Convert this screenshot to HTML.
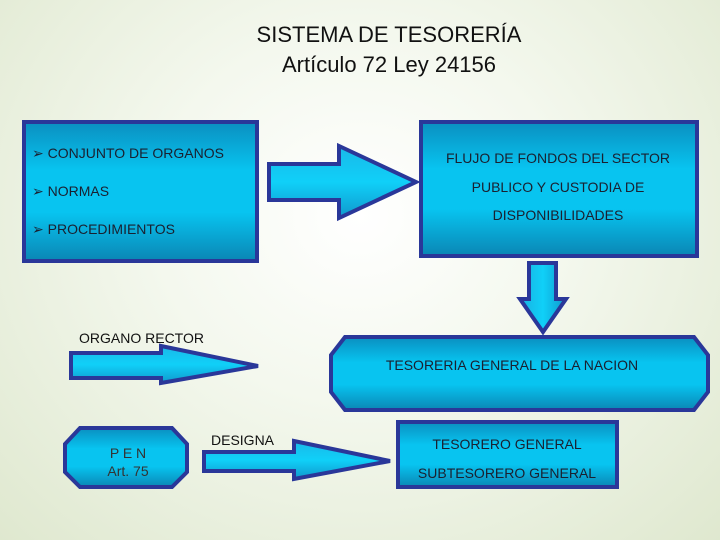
<!DOCTYPE html>
<html><head><meta charset="utf-8"><style>
body{margin:0;width:720px;height:540px;overflow:hidden;background:radial-gradient(ellipse at 50% 40%,#ffffff 0%,#f4f8ee 40%,#dfe8cf 100%);font-family:"Liberation Sans",sans-serif;position:relative}
.t{position:absolute;left:0;width:778px;text-align:center;font-size:22px;color:#111}
svg{position:absolute;left:0;top:0}
</style></head><body>
<div class="t" style="top:22px">SISTEMA DE TESORERÍA</div>
<div class="t" style="top:52px">Artículo 72 Ley 24156</div>
<svg width="720" height="540" font-family="Liberation Sans, sans-serif">
<defs>
<linearGradient id="g" x1="0" y1="0" x2="0" y2="1">
<stop offset="0" stop-color="#0a8fc0"/><stop offset="0.35" stop-color="#08c4f0"/><stop offset="0.65" stop-color="#08c4f0"/><stop offset="1" stop-color="#0a86b4"/></linearGradient>
<linearGradient id="h" x1="0" y1="0" x2="0" y2="1">
<stop offset="0" stop-color="#1ab8e8"/><stop offset="0.5" stop-color="#10d0f8"/><stop offset="1" stop-color="#1098cc"/></linearGradient>
<linearGradient id="v" x1="0" y1="0" x2="1" y2="0">
<stop offset="0" stop-color="#1ab0e0"/><stop offset="0.5" stop-color="#10d0f8"/><stop offset="1" stop-color="#1098cc"/></linearGradient>
</defs>
<g stroke="#2a3799" stroke-width="4" stroke-linejoin="miter">
<rect x="24" y="122" width="233" height="139" fill="url(#g)"/>
<rect x="421" y="122" width="276" height="134" fill="url(#g)"/>
<polygon points="269,164 339,164 339,146 416,182 339,218 339,200 269,200" fill="url(#h)"/>
<polygon points="529,263 556,263 556,299 566,299 543,332 520,299 529,299" fill="url(#v)"/>
<polygon points="345,337 694,337 708,355 708,392 694,410 345,410 331,392 331,355" fill="url(#g)"/>
<polygon points="71,353 161,353 161,346 258,366 161,383 161,378 71,378" fill="url(#h)"/>
<polygon points="80,428 172,428 187,444 187,472 172,487 80,487 65,472 65,444" fill="url(#g)"/>
<polygon points="204,452 294,452 294,441 390,461 294,479 294,471 204,471" fill="url(#h)"/>
<rect x="398" y="422" width="219" height="65" fill="url(#g)"/>
</g>
<g font-size="14" fill="#1a2030">
<text x="32" y="158">➢ CONJUNTO DE ORGANOS</text>
<text x="32" y="196">➢ NORMAS</text>
<text x="32" y="234">➢ PROCEDIMIENTOS</text>
<text x="558" y="163" text-anchor="middle">FLUJO DE  FONDOS DEL SECTOR</text>
<text x="558" y="192" text-anchor="middle">PUBLICO Y CUSTODIA DE</text>
<text x="558" y="220" text-anchor="middle">DISPONIBILIDADES</text>
<text x="512" y="370" text-anchor="middle">TESORERIA GENERAL DE LA NACION</text>
<text x="507" y="449" text-anchor="middle">TESORERO GENERAL</text>
<text x="507" y="478" text-anchor="middle">SUBTESORERO GENERAL</text>
<text x="128" y="458" text-anchor="middle" fill="#333">P E N</text>
<text x="128" y="476" text-anchor="middle" fill="#333">Art. 75</text>
<text x="79" y="343" fill="#111">ORGANO RECTOR</text>
<text x="211" y="445" fill="#111">DESIGNA</text>
</g>
</svg>
</body></html>
